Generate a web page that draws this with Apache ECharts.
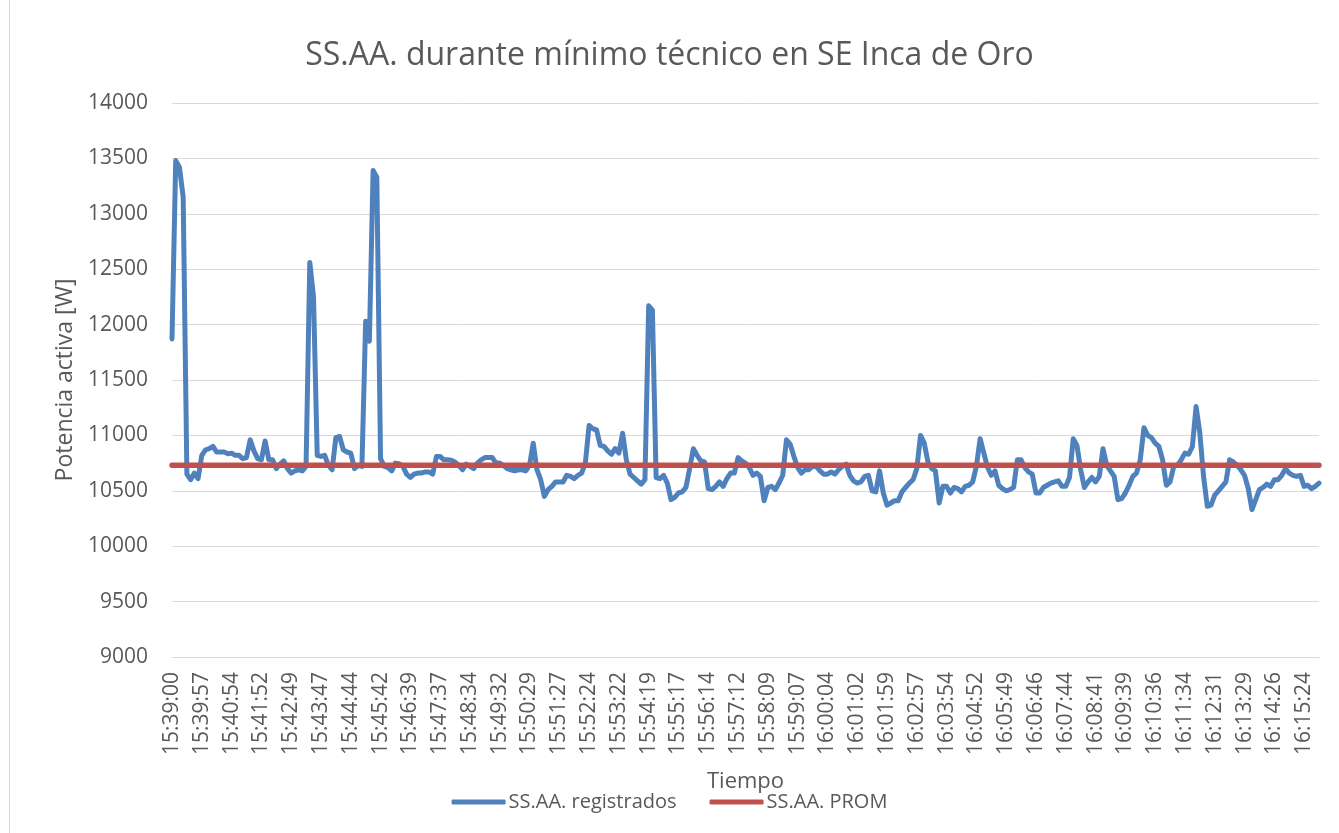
<!DOCTYPE html>
<html>
<head>
<meta charset="utf-8">
<script src="https://cdn.jsdelivr.net/npm/echarts@6/dist/echarts.min.js"></script>
<style>
html,body{margin:0;padding:0;background:#fff;}
#chart{position:absolute;left:0;top:0;width:1339px;height:833px;}
#frame{position:absolute;left:9px;top:0;width:1330px;height:833px;border-left:1px solid #d9d9d9;box-sizing:border-box;pointer-events:none;}
</style>
</head>
<body>
<div id="chart"></div>
<div id="frame"></div>
<script>
const tickLabels = [
  '15:39:00','15:39:57','15:40:54','15:41:52','15:42:49','15:43:47','15:44:44','15:45:42',
  '15:46:39','15:47:37','15:48:34','15:49:32','15:50:29','15:51:27','15:52:24','15:53:22',
  '15:54:19','15:55:17','15:56:14','15:57:12','15:58:09','15:59:07','16:00:04','16:01:02',
  '16:01:59','16:02:57','16:03:54','16:04:52','16:05:49','16:06:46','16:07:44','16:08:41',
  '16:09:39','16:10:36','16:11:34','16:12:31','16:13:29','16:14:26','16:15:24'
];
const POINTS_PER_TICK = 8;

const registrados = [
  11870,13480,13420,13150,10650,10600,10660,10610,
  10820,10870,10880,10900,10850,10850,10850,10835,
  10840,10820,10820,10790,10800,10960,10860,10790,
  10780,10950,10780,10780,10700,10740,10770,10700,
  10660,10680,10690,10680,10720,12560,12250,10820,
  10810,10820,10730,10690,10980,10990,10870,10850,
  10840,10700,10730,10720,12030,11850,13390,13330,
  10790,10720,10710,10680,10750,10745,10720,10650,
  10620,10650,10660,10660,10670,10670,10650,10810,
  10810,10780,10780,10775,10760,10730,10690,10740,
  10720,10700,10750,10780,10800,10800,10800,10750,
  10750,10730,10700,10690,10680,10690,10690,10680,
  10730,10930,10690,10600,10450,10510,10540,10580,
  10580,10580,10640,10630,10610,10640,10660,10750,
  11090,11060,11050,10910,10900,10860,10830,10880,
  10840,11020,10780,10650,10620,10590,10560,10600,
  12170,12130,10620,10610,10640,10570,10420,10440,
  10480,10490,10530,10700,10880,10820,10770,10760,
  10520,10510,10540,10580,10540,10610,10660,10660,
  10800,10770,10750,10710,10640,10660,10630,10410,
  10530,10540,10510,10570,10640,10960,10920,10810,
  10710,10660,10690,10690,10720,10720,10680,10650,
  10650,10670,10650,10690,10720,10740,10640,10590,
  10570,10580,10630,10640,10500,10490,10680,10480,
  10370,10390,10410,10410,10490,10530,10570,10600,
  10700,11000,10930,10760,10700,10680,10390,10540,
  10540,10480,10530,10520,10490,10540,10550,10580,
  10720,10970,10840,10710,10640,10680,10550,10520,
  10500,10510,10530,10780,10780,10710,10670,10650,
  10480,10480,10530,10550,10570,10580,10590,10540,
  10540,10620,10970,10910,10690,10530,10580,10620,
  10580,10630,10880,10730,10680,10630,10420,10430,
  10480,10550,10630,10660,10780,11070,11000,10980,
  10930,10900,10780,10550,10580,10720,10730,10780,
  10840,10830,10900,11260,11020,10630,10360,10370,
  10460,10500,10540,10580,10780,10760,10730,10690,
  10640,10520,10330,10420,10510,10530,10560,10540,
  10600,10600,10640,10700,10660,10640,10630,10640,
  10540,10550,10520,10540,10570
];
const PROM = 10730;

const yTicks = { min: 9000, max: 14000, interval: 500 };

const categories = registrados.map((_, i) =>
  (i % POINTS_PER_TICK === 0 && tickLabels[i / POINTS_PER_TICK]) ? tickLabels[i / POINTS_PER_TICK] : '');
const promedio = registrados.map(() => PROM);

const FONT = '"Open Sans", sans-serif';
const TXT = '#595959';

const chart = echarts.init(document.getElementById('chart'), null, { renderer: 'canvas' });
chart.setOption({
  animation: false,
  backgroundColor: '#ffffff',
  title: {
    text: 'SS.AA. durante mínimo técnico en SE Inca de Oro',
    left: 'center',
    top: 35,
    textStyle: { fontFamily: FONT, fontSize: 32, fontWeight: 'normal', color: TXT }
  },
  grid: { left: 172, right: 20, top: 103, bottom: 176, containLabel: false },
  xAxis: {
    type: 'category',
    data: categories,
    boundaryGap: false,
    name: 'Tiempo',
    nameLocation: 'middle',
    nameGap: 114,
    nameTextStyle: { fontFamily: FONT, fontSize: 22, color: TXT },
    axisLine: { show: true, lineStyle: { color: '#d9d9d9', width: 1 } },
    axisTick: { show: false },
    splitLine: { show: false },
    axisLabel: {
      interval: function (idx) { return idx % POINTS_PER_TICK === 0; },
      rotate: 90,
      margin: 15,
      fontFamily: FONT,
      fontSize: 21,
      color: TXT,
      hideOverlap: false
    }
  },
  yAxis: {
    type: 'value',
    min: yTicks.min,
    max: yTicks.max,
    interval: yTicks.interval,
    name: 'Potencia activa [W]',
    nameLocation: 'middle',
    nameGap: 94,
    nameRotate: 90,
    nameTextStyle: { fontFamily: FONT, fontSize: 23, color: TXT },
    axisLine: { show: false },
    axisTick: { show: false },
    splitLine: { show: true, lineStyle: { color: '#d9d9d9', width: 1 } },
    axisLabel: {
      margin: 24,
      fontFamily: FONT,
      fontSize: 21,
      color: TXT,
      formatter: v => String(v)
    }
  },
  legend: {
    left: 'center',
    top: 787,
    icon: 'roundRect',
    itemWidth: 54,
    itemHeight: 5,
    itemGap: 33,
    textStyle: { fontFamily: FONT, fontSize: 20, color: TXT, padding: [0, 0, 0, -2] },
    data: ['SS.AA. registrados', 'SS.AA. PROM']
  },
  series: [
    {
      name: 'SS.AA. registrados',
      type: 'line',
      data: registrados,
      showSymbol: false,
      symbol: 'none',
      smooth: false,
      lineStyle: { color: '#4F81BD', width: 5, join: 'round', cap: 'round' },
      itemStyle: { color: '#4F81BD' },
      z: 2
    },
    {
      name: 'SS.AA. PROM',
      type: 'line',
      data: promedio,
      showSymbol: false,
      symbol: 'none',
      lineStyle: { color: '#C0504D', width: 5.5, cap: 'round' },
      itemStyle: { color: '#C0504D' },
      z: 3
    }
  ]
});
</script>
</body>
</html>
